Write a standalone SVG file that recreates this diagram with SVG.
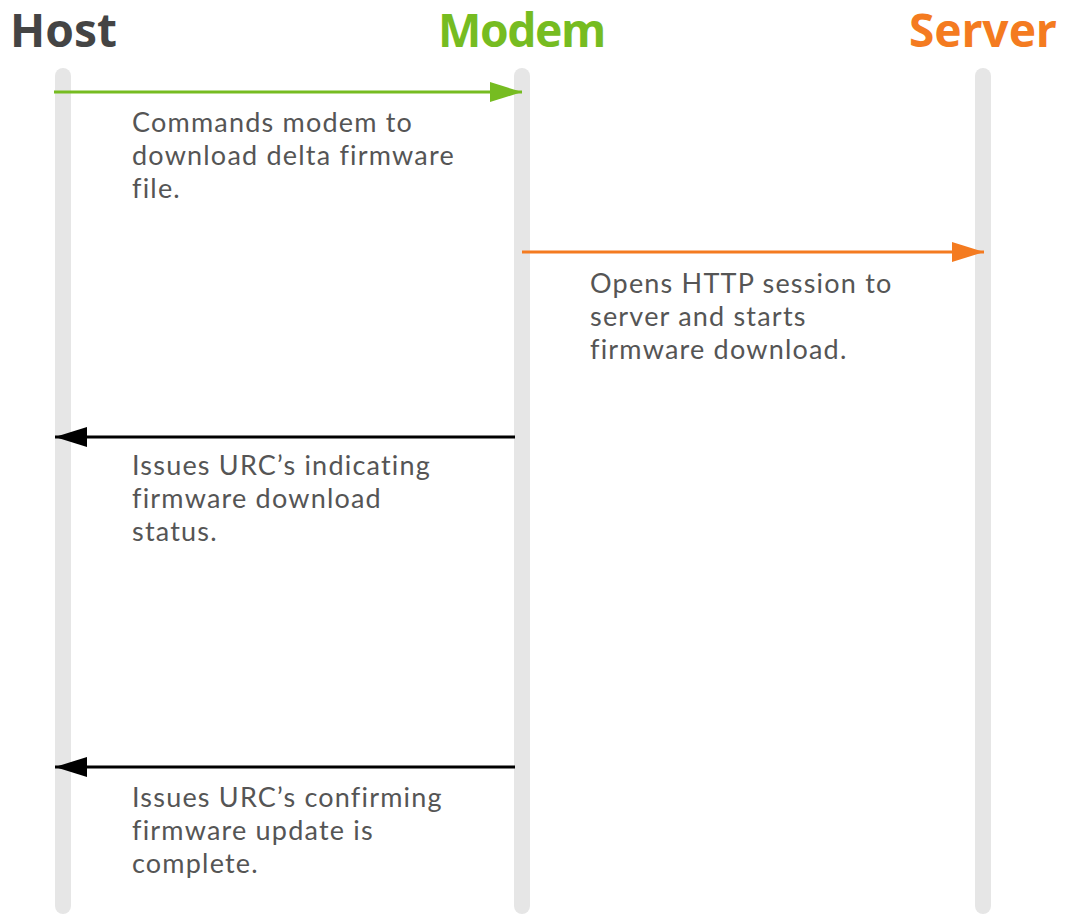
<svg xmlns="http://www.w3.org/2000/svg" width="1065" height="914" viewBox="0 0 1065 914">
<style>
.life{stroke:#e6e6e6;stroke-width:16;stroke-linecap:round}
.hdr{font-family:"Noto Sans","Liberation Sans",sans-serif;font-weight:bold;font-size:46px}
.lbl{font-family:Lato,"Liberation Sans",sans-serif;font-size:27px;letter-spacing:1.2px;fill:#555555}
.msg{stroke-width:3;fill:none}
</style>
<defs>
<marker id="agreen" markerWidth="32" markerHeight="20" refX="32" refY="10" orient="auto" markerUnits="userSpaceOnUse"><path d="M0,0 L32,10 L0,20 Z" fill="#76bc21"/></marker>
<marker id="aorange" markerWidth="32" markerHeight="20" refX="32" refY="10" orient="auto" markerUnits="userSpaceOnUse"><path d="M0,0 L32,10 L0,20 Z" fill="#f47b20"/></marker>
<marker id="ablack" markerWidth="32" markerHeight="20" refX="32" refY="10" orient="auto" markerUnits="userSpaceOnUse"><path d="M0,0 L32,10 L0,20 Z" fill="#000000"/></marker>
</defs>
<g id="host">
<line class="life" x1="63" y1="76" x2="63" y2="906"/>
<text class="hdr" x="10" y="47" fill="#444444">Host</text>
</g>
<g id="modem">
<line class="life" x1="522" y1="76" x2="522" y2="906"/>
<text class="hdr" x="438" y="47" fill="#76bc21" textLength="168">Modem</text>
</g>
<g id="server">
<line class="life" x1="983" y1="76" x2="983" y2="906"/>
<text class="hdr" x="909" y="47" fill="#f47b20">Server</text>
</g>
<g id="connectors">
<line class="msg" x1="54" y1="92" x2="522" y2="92" stroke="#76bc21" marker-end="url(#agreen)"/>
<line class="msg" x1="522" y1="252" x2="984" y2="252" stroke="#f47b20" marker-end="url(#aorange)"/>
<line class="msg" x1="515" y1="437" x2="55" y2="437" stroke="#000000" marker-end="url(#ablack)"/>
<line class="msg" x1="515" y1="767" x2="55" y2="767" stroke="#000000" marker-end="url(#ablack)"/>
</g>
<g id="labels">
<text class="lbl" x="132"><tspan x="132" y="132">Commands modem to</tspan><tspan x="132" y="165">download delta firmware</tspan><tspan x="132" y="198">file.</tspan></text>
<text class="lbl" x="590"><tspan x="590" y="293">Opens HTTP session to</tspan><tspan x="590" y="326">server and starts</tspan><tspan x="590" y="359">firmware download.</tspan></text>
<text class="lbl" x="132"><tspan x="132" y="475">Issues URC’s indicating</tspan><tspan x="132" y="508">firmware download</tspan><tspan x="132" y="541">status.</tspan></text>
<text class="lbl" x="132"><tspan x="132" y="807">Issues URC’s confirming</tspan><tspan x="132" y="840">firmware update is</tspan><tspan x="132" y="873">complete.</tspan></text>
</g>
</svg>
